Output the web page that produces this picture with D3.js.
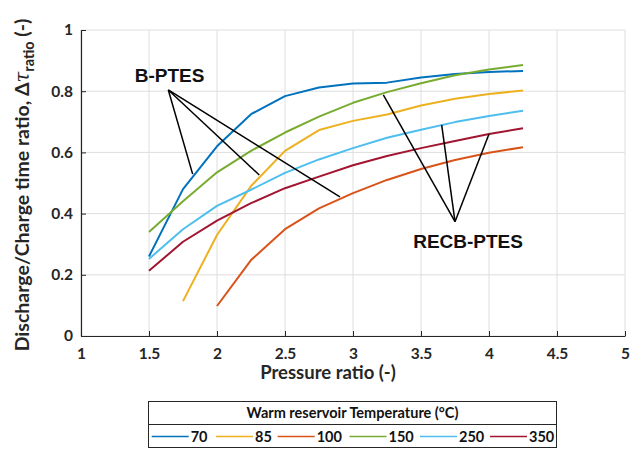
<!DOCTYPE html>
<html><head><meta charset="utf-8">
<script src="https://cdn.jsdelivr.net/npm/d3@7"></script>
<style>
html,body{margin:0;padding:0;background:#fff;}
svg{display:block;font-family:Lato,"Open Sans",sans-serif;font-weight:bold;}
</style></head>
<body>
<svg id="chart" width="631" height="450"></svg>
<script>
// ---- data ----
const pressureRatio = [1.5,1.75,2,2.25,2.5,2.75,3,3.25,3.5,3.75,4,4.25];
const seriesNames = ["70","85","100","150","250","350"];
const seriesColors = ["#0072BD","#EDB120","#D95319","#77AC30","#4DBEEE","#A2142F"];
const t70  = [0.26,0.48,0.62,0.725,0.784,0.812,0.825,0.828,0.845,0.856,0.863,0.866];
const t85  = [null,0.114,0.33,0.49,0.605,0.673,0.703,0.724,0.753,0.775,0.791,0.802];
const t100 = [null,null,0.098,0.248,0.349,0.417,0.467,0.51,0.546,0.575,0.599,0.617];
const t150 = [0.34,0.44,0.535,0.605,0.665,0.717,0.762,0.797,0.826,0.852,0.871,0.886];
const t250 = [0.252,0.349,0.425,0.478,0.533,0.577,0.614,0.648,0.674,0.699,0.719,0.736];
const t350 = [0.213,0.308,0.377,0.434,0.483,0.521,0.558,0.588,0.614,0.637,0.66,0.679];
const seriesValues = [t70,t85,t100,t150,t250,t350];
const xTicks = [1,1.5,2,2.5,3,3.5,4,4.5,5];
const yTicks = [0,0.2,0.4,0.6,0.8,1];
const xTickLabels = ["1","1.5","2","2.5","3","3.5","4","4.5","5"];
const yTickLabels = ["0","0.2","0.4","0.6","0.8","1"];
// annotations (data coordinates)
const bLabel = {text:"B-PTES", x:1.651, y:0.83};
const bApex = [1.642,0.804];
const bTargets = [[1.821,0.529],[2.311,0.526],[2.904,0.455]];
const rLabel = {text:"RECB-PTES", x:3.846, y:0.2876};
const rApex = [3.75,0.3735];
const rTargets = [[3.223,0.788],[3.652,0.69],[4.0,0.66]];
const legendTitle = "Warm reservoir Temperature (°C)";

// ---- layout ----
const svg = d3.select("#chart");
const L=81, R=625, T=30, B=336;
const x = d3.scaleLinear().domain([1,5]).range([L,R]);
const y = d3.scaleLinear().domain([0,1]).range([B,T]);
const gridColor = "#dedede", axisColor = "#262626";

// grid
svg.append("g").selectAll("line").data(xTicks).join("line")
  .attr("x1",d=>x(d)).attr("x2",d=>x(d)).attr("y1",T).attr("y2",B)
  .attr("stroke",gridColor).attr("stroke-width",1);
svg.append("g").selectAll("line").data(yTicks).join("line")
  .attr("x1",L).attr("x2",R).attr("y1",d=>y(d)).attr("y2",d=>y(d))
  .attr("stroke",gridColor).attr("stroke-width",1);

// axes
const xAxis = d3.axisBottom(x).tickValues(xTicks).tickFormat((d,i)=>xTickLabels[i]).tickSizeInner(-5).tickSizeOuter(0);
const gx = svg.append("g").attr("transform",`translate(0,${B})`).call(xAxis);
const yAxis = d3.axisLeft(y).tickValues(yTicks).tickFormat((d,i)=>yTickLabels[i]).tickSizeInner(-5).tickSizeOuter(0).tickPadding(8);
const gy = svg.append("g").attr("transform",`translate(${L},0)`).call(yAxis);
[gx,gy].forEach(g=>{
  g.select(".domain").attr("stroke",axisColor).attr("stroke-width",1.2);
  g.selectAll(".tick line").attr("stroke",axisColor);
  g.selectAll(".tick text").attr("fill","#262626").style("font-family","Lato").style("font-weight","bold").style("font-size","15.5px");
});
gx.selectAll(".tick text").attr("dy",null).attr("y",22.5);

// series
const line = d3.line().defined(d=>d[1]!=null).x(d=>x(d[0])).y(d=>y(d[1]));
seriesValues.forEach((vals,i)=>{
  const pts = pressureRatio.map((p,j)=>[p,vals[j]]);
  svg.append("path").datum(pts).attr("d",line)
    .attr("fill","none").attr("stroke",seriesColors[i]).attr("stroke-width",2)
    .attr("stroke-linejoin","round");
});

// annotations
function annot(label, apex, targets){
  targets.forEach(t=>{
    svg.append("line").attr("x1",x(apex[0])).attr("y1",y(apex[1]))
      .attr("x2",x(t[0])).attr("y2",y(t[1]))
      .attr("stroke","#000").attr("stroke-width",1.5);
  });
  svg.append("text").attr("x",x(label.x)).attr("y",y(label.y))
    .attr("text-anchor","middle").style("font-family","'Liberation Sans',Arial,sans-serif")
    .style("font-weight","bold").style("font-size","19px").attr("fill","#111").text(label.text);
}
annot(bLabel,bApex,bTargets);
annot(rLabel,rApex,rTargets);

// axis titles
svg.append("text").attr("x",328).attr("y",379).attr("text-anchor","middle")
  .style("font-size","18.5px").attr("fill","#262626").text("Pressure ratio (-)");
const yl = svg.append("text").attr("transform","translate(29,185) rotate(-90)")
  .attr("text-anchor","middle").style("font-size","19.5px").attr("fill","#262626");
yl.append("tspan").text("Discharge/Charge time ratio, Δ");
yl.append("tspan").style("font-style","italic").style("font-family","'DejaVu Serif',serif").style("font-weight","normal").text("τ");
yl.append("tspan").attr("dy",5).style("font-size","14.5px").text("ratio");
yl.append("tspan").attr("dy",-5).text(" (-)");

// legend
const lg = svg.append("g");
const LX0=148.5, LX1=556.5, LY0=401.5, LY1=447.5, LYD=424.5;
lg.append("rect").attr("x",LX0).attr("y",LY0).attr("width",LX1-LX0).attr("height",LY1-LY0)
  .attr("fill","#fff").attr("stroke","#262626").attr("stroke-width",1);
lg.append("line").attr("x1",LX0).attr("x2",LX1).attr("y1",LYD).attr("y2",LYD).attr("stroke","#262626");
lg.append("text").attr("x",(LX0+LX1)/2).attr("y",418).attr("text-anchor","middle")
  .style("font-size","14.5px").attr("fill","#111").text(legendTitle);
const itemX = [151.7,216,277.7,349.5,420,490];
seriesNames.forEach((n,i)=>{
  lg.append("line").attr("x1",itemX[i]).attr("x2",itemX[i]+37).attr("y1",436.5).attr("y2",436.5)
    .attr("stroke",seriesColors[i]).attr("stroke-width",1.5);
  lg.append("text").attr("x",itemX[i]+39).attr("y",441.5).style("font-size","14.5px").attr("fill","#111").text(n);
});
</script>
</body></html>
